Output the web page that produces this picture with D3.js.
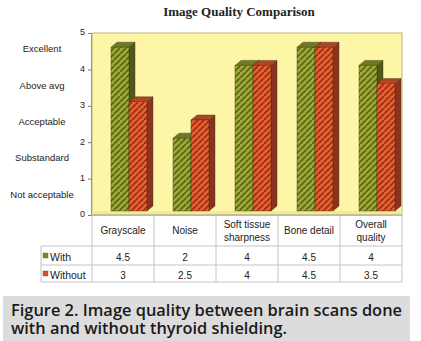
<!DOCTYPE html>
<html>
<head>
<meta charset="utf-8">
<script src="https://cdn.jsdelivr.net/npm/d3@7"></script>
<style>
  body { margin: 0; background: #fff; }
  svg text { font-family: "Liberation Sans", Arial, sans-serif; fill: #222; }
</style>
</head>
<body>
<div id="chart"></div>
<script>
// Chart data
const categories = ["Grayscale", "Noise", "Soft tissue\nsharpness", "Bone detail", "Overall\nquality"];
const withValues = [4.5, 2, 4, 4.5, 4];
const withoutValues = [3, 2.5, 4, 4.5, 3.5];
const seriesNames = ["With", "Without"];
const yTicks = [0, 1, 2, 3, 4, 5];
const qualityLabels = ["Not acceptable", "Substandard", "Acceptable", "Above avg", "Excellent"];

const width = 421, height = 341;
const plot = { left: 92, right: 402, top: 33, bottom: 215 };

const svg = d3.select('#chart').append('svg')
    .attr('width', width)
    .attr('height', height);

// Patterns for the bar faces
const defs = svg.append('defs');
function makePattern(id, base, dark, light) {
    const p = defs.append('pattern')
        .attr('id', id)
        .attr('patternUnits', 'userSpaceOnUse')
        .attr('width', 6).attr('height', 6);
    p.append('rect').attr('width', 6).attr('height', 6).attr('fill', base);
    p.append('path').attr('d', 'M-1,7 L7,-1').attr('stroke', dark).attr('stroke-width', 1.3);
    p.append('path').attr('d', 'M-1,4 L4,-1').attr('stroke', light).attr('stroke-width', 0.8).attr('opacity', 0.7);
    p.append('path').attr('d', 'M2,7 L7,2').attr('stroke', light).attr('stroke-width', 0.8).attr('opacity', 0.7);
}
makePattern('patWith', '#94a030', '#525c16', '#b0ba4c');
makePattern('patWithout', '#e2562a', '#8c2a12', '#f07a48');

const colors = {
    With: { face: 'url(#patWith)', side: '#4f5a1a', top: '#6f7a24', legend: '#7d8a2a' },
    Without: { face: 'url(#patWithout)', side: '#8a3420', top: '#b04426', legend: '#d9502a' }
};

// Title
svg.append('text')
    .attr('x', 239).attr('y', 16)
    .attr('text-anchor', 'middle')
    .style('font-family', '"Liberation Serif", "DejaVu Serif", serif')
    .style('font-weight', 'bold')
    .style('font-size', '13px')
    .text('Image Quality Comparison');

// Scales
const x = d3.scaleBand()
    .domain(categories)
    .range([plot.left, plot.right]);

const y = d3.scaleLinear()
    .domain([0, 5])
    .range([plot.bottom, plot.top]);

// Plot background
svg.append('rect')
    .attr('x', plot.left).attr('y', plot.top)
    .attr('width', plot.right - plot.left)
    .attr('height', plot.bottom - plot.top)
    .attr('fill', '#fcf6a6')
    .attr('stroke', '#b9b37a')
    .attr('stroke-width', 1);

// floor strip
svg.append('rect')
    .attr('x', plot.left).attr('y', plot.bottom - 4)
    .attr('width', plot.right - plot.left).attr('height', 4)
    .attr('fill', '#f1eb98');

// Y axis
const yAxis = svg.append('g')
    .attr('transform', `translate(${plot.left - 1},0)`)
    .call(d3.axisLeft(y).tickValues(yTicks).tickSize(3).tickFormat(d3.format('d')));
yAxis.select('.domain').attr('stroke', '#999');
yAxis.selectAll('.tick line').attr('stroke', '#777');
yAxis.selectAll('.tick text')
    .style('font-size', '9px')
    .attr('x', -6)
    .attr('dy', '0.2em');

// Quality labels between ticks
svg.append('g').selectAll('text')
    .data(qualityLabels)
    .join('text')
    .attr('x', 42)
    .attr('y', (d, i) => y(i + 0.5))
    .attr('dy', '0.1em')
    .attr('text-anchor', 'middle')
    .style('font-size', '9.5px')
    .text(d => d);

// Bars (pseudo 3D)
const barW = 18, depthX = 6, depthY = -5, frontShift = -4;
const barBase = plot.bottom - 4;
const bars = [];
categories.forEach((c, i) => {
    bars.push({ cat: c, series: 'With', value: withValues[i], k: 0 });
    bars.push({ cat: c, series: 'Without', value: withoutValues[i], k: 1 });
});

const barG = svg.append('g');
bars.forEach(d => {
    const x0 = x(d.cat) + 19 + d.k * barW;
    const top = y(d.value) + frontShift;
    const c = colors[d.series];
    const g = barG.append('g');
    // side face
    g.append('polygon')
        .attr('points', [
            [x0 + barW, top], [x0 + barW + depthX, top + depthY],
            [x0 + barW + depthX, barBase + depthY], [x0 + barW, barBase]
        ].map(p => p.join(',')).join(' '))
        .attr('fill', c.side)
        .attr('stroke', '#3a3014').attr('stroke-width', 0.4);
    // top face
    g.append('polygon')
        .attr('points', [
            [x0, top], [x0 + barW, top],
            [x0 + barW + depthX, top + depthY], [x0 + depthX, top + depthY]
        ].map(p => p.join(',')).join(' '))
        .attr('fill', c.top)
        .attr('stroke', '#3a3014').attr('stroke-width', 0.4);
    // front face
    g.append('rect')
        .attr('x', x0).attr('y', top)
        .attr('width', barW).attr('height', barBase - top)
        .attr('fill', c.face)
        .attr('stroke', '#3a3014').attr('stroke-width', 0.4);
});

// Data table
const tableTop = plot.bottom, rowLine1 = 246, rowLine2 = 265, tableBottom = 282;
const lineColor = '#c4c4c4';
const table = svg.append('g');

// vertical lines
const bounds = categories.map(c => x(c)).concat([plot.right]);
table.selectAll('line.v')
    .data(bounds)
    .join('line')
    .attr('x1', d => d).attr('x2', d => d)
    .attr('y1', tableTop).attr('y2', tableBottom)
    .attr('stroke', lineColor);
table.append('line')
    .attr('x1', 41).attr('x2', 41)
    .attr('y1', rowLine1).attr('y2', tableBottom)
    .attr('stroke', lineColor);

// horizontal lines
[[plot.left, tableTop], [41, rowLine1], [41, rowLine2], [41, tableBottom]].forEach(([x1, yy]) => {
    table.append('line')
        .attr('x1', x1).attr('x2', plot.right)
        .attr('y1', yy).attr('y2', yy)
        .attr('stroke', yy === tableTop ? '#999' : lineColor);
});

// category labels
categories.forEach(c => {
    const lines = c.split('\n');
    const cx = x(c) + x.bandwidth() / 2;
    const t = table.append('text')
        .attr('text-anchor', 'middle')
        .style('font-size', '10px');
    lines.forEach((ln, j) => {
        t.append('tspan')
            .attr('x', cx)
            .attr('y', lines.length === 1 ? 234 : 228 + j * 13)
            .text(ln);
    });
});

// series rows
const rows = [
    { name: seriesNames[0], values: withValues, yc: 257 },
    { name: seriesNames[1], values: withoutValues, yc: 275 }
];
rows.forEach(r => {
    table.append('rect')
        .attr('x', 43).attr('y', r.yc - 4)
        .attr('width', 5).attr('height', 5)
        .attr('fill', colors[r.name].legend)
        .attr('stroke', '#555').attr('stroke-width', 0.4);
    table.append('text')
        .attr('x', 50).attr('y', r.yc + 3.5)
        .style('font-size', '10.5px')
        .text(r.name);
    r.values.forEach((v, i) => {
        table.append('text')
            .attr('x', x(categories[i]) + x.bandwidth() / 2)
            .attr('y', r.yc + 3.5)
            .attr('text-anchor', 'middle')
            .style('font-size', '10px')
            .text(v);
    });
});

// Caption (one text, two lines)
svg.append('rect')
    .attr('x', 3).attr('y', 296)
    .attr('width', 407).attr('height', 45)
    .attr('fill', '#dcdcdc');
const captionLines = ["Figure 2. Image quality between brain scans done", "with and without thyroid shielding."];
const captionLengths = [391, 276];
const caption = svg.append('text')
    .style('font-family', '"Open Sans", "Noto Sans", sans-serif')
    .style('font-size', '16px')
    .style('font-weight', '600')
    .style('fill', '#1a1a1a');
captionLines.forEach((ln, i) => {
    caption.append('tspan')
        .attr('x', 11).attr('y', 316 + i * 18)
        .attr('textLength', captionLengths[i])
        .attr('lengthAdjust', 'spacingAndGlyphs')
        .text(ln);
});
</script>
</body>
</html>
